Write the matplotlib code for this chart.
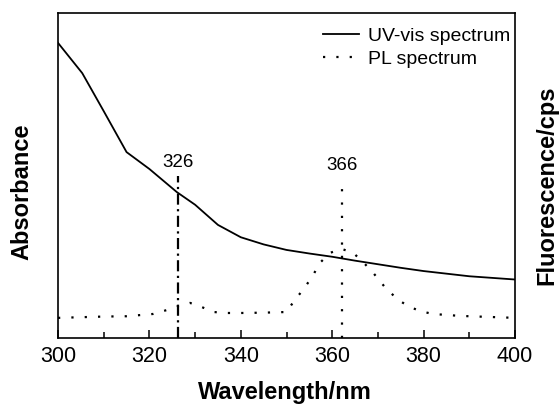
import numpy as np
import matplotlib
matplotlib.use('Agg')
import matplotlib.pyplot as plt
from matplotlib.ticker import MultipleLocator

plt.rcParams['font.family'] = ['Liberation Sans', 'DejaVu Sans']

# UV-vis absorbance (arbitrary units)
uv_wl = [300, 305.3, 310, 315, 320, 326, 330, 335, 340, 345, 350, 355, 360, 365, 370, 375, 380, 385, 390, 395, 400]
uv_abs = [0.908, 0.815, 0.698, 0.572, 0.52, 0.449, 0.41, 0.348, 0.31, 0.288, 0.271, 0.26, 0.25, 0.238, 0.227, 0.216, 0.206, 0.198, 0.19, 0.185, 0.18]

# PL spectrum (arbitrary units)
pl_wl = [300, 305, 310, 315, 320.8, 323.8, 326.3, 328.9, 331.5, 334, 337, 340, 345, 350, 351.8, 353.6,
         355.6, 357.3, 359.5, 362.1, 364.6, 367, 369, 371.5, 374.2, 376.6, 379.2, 382, 388, 394, 400]
pl_int = [0.062, 0.064, 0.066, 0.067, 0.074, 0.086, 0.098, 0.108, 0.095, 0.08, 0.077, 0.077, 0.078, 0.08, 0.117, 0.148,
          0.188, 0.231, 0.262, 0.274, 0.262, 0.23, 0.2, 0.157, 0.12, 0.098, 0.083, 0.074, 0.068, 0.065, 0.062]

# marker lines and their labels
uv_peak_x, uv_peak_top, uv_label = 326.3, 0.50, '326'
pl_peak_x, pl_peak_top, pl_label = 362.1, 0.49, '366'

fig = plt.figure(figsize=(5.59, 4.05), dpi=100)
ax = fig.add_axes([0.1038, 0.1654, 0.8175, 0.8025])

ax.plot(uv_wl, uv_abs, color='black', lw=1.3, label='UV-vis spectrum')
ax.plot(pl_wl, pl_int, color='black', lw=1.6, linestyle=(0, (1, 5)), label='PL spectrum')

# peak markers
ax.plot([uv_peak_x, uv_peak_x], [0, uv_peak_top], color='black', lw=1.6, linestyle=(0, (5, 2, 1, 2)))
ax.plot([pl_peak_x, pl_peak_x], [0, pl_peak_top], color='black', lw=1.6, linestyle=(0, (1, 5)))
ax.text(uv_peak_x, uv_peak_top + 0.015, uv_label, ha='center', va='bottom', fontsize=13.5)
ax.text(pl_peak_x, pl_peak_top + 0.015, pl_label, ha='center', va='bottom', fontsize=13.5)

ax.set_xlim(300, 400)
ax.set_ylim(0, 1)
ax.xaxis.set_major_locator(MultipleLocator(20))
ax.xaxis.set_minor_locator(MultipleLocator(10))
ax.tick_params(axis='x', which='major', direction='in', length=6, width=1.1, labelsize=15.5, pad=6)
ax.tick_params(axis='x', which='minor', direction='in', length=4, width=1.1)
ax.set_yticks([])
for s in ax.spines.values():
    s.set_linewidth(1.2)

fig.text(0.51, 0.03, 'Wavelength/nm', ha='center', va='center', fontsize=17, fontweight='bold')
fig.text(0.040, 0.526, 'Absorbance', rotation=90, ha='center', va='center',
         fontsize=17, fontweight='bold')
fig.text(0.978, 0.543, 'Fluorescence/cps', rotation=90, ha='center', va='center',
         fontsize=17, fontweight='bold')

ax.legend(loc='upper right', bbox_to_anchor=(1.0, 0.97), frameon=False, fontsize=14,
          handlelength=1.85, handletextpad=0.45, labelspacing=0.25,
          borderpad=0.1, borderaxespad=0.15)

fig.savefig('out.png', dpi=100)
